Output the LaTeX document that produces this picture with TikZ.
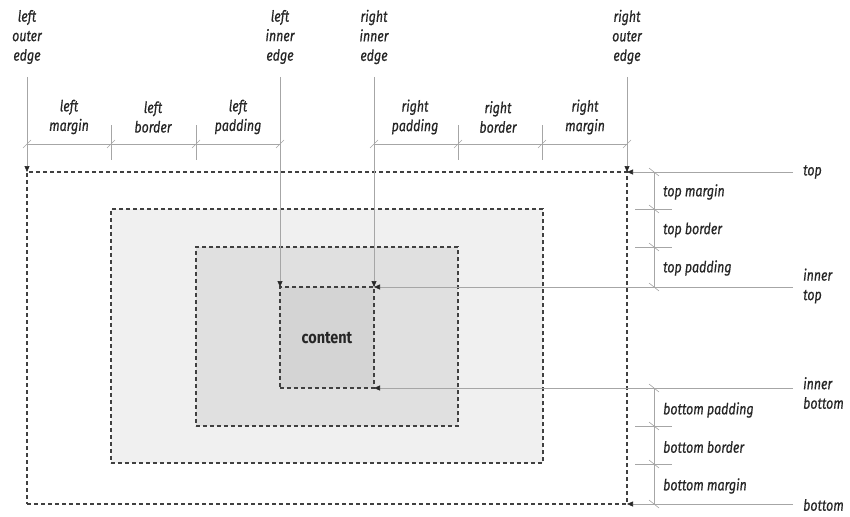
\documentclass[tikz,border=0pt]{standalone}
\usepackage{fontspec}
\newfontfamily\lblfont{Fira Sans}[FakeStretch=0.8,FakeBold=0.6]
\newfontfamily\cntfont{Fira Sans}[FakeStretch=0.85]
\usetikzlibrary{arrows.meta}
\begin{document}
\begin{tikzpicture}[x=1pt,y=-1pt,
  gl/.style={draw=black!35, line width=0.6pt},
  arr/.style={gl, -{Triangle[length=6pt,width=5pt,color=black!85]}},
  box/.style={draw=black!75, dash pattern=on 4pt off 3pt, line width=1.1pt, inner sep=0pt, outer sep=0pt},
  lbl/.style={font=\lblfont\itshape\fontsize{15.5}{19.5}\selectfont, text=black!85, inner sep=0pt},
  toplbl/.style={lbl, align=center},
  rlbl/.style={lbl, anchor=west, align=left},
]
\useasboundingbox (0,0) rectangle (850,516);

% boxes
\node[box, fill=white, minimum width=600pt, minimum height=332pt] (outer) at (327,338) {};
\node[box, fill=black!6, minimum width=432pt, minimum height=254pt] (border) at (327,336) {};
\node[box, fill=black!12, minimum width=262pt, minimum height=179pt] (padding) at (327,336.5) {};
\node[box, fill=black!17, minimum width=94pt, minimum height=101pt,
      font=\cntfont\bfseries\fontsize{17}{20}\selectfont, text=black!85] (content) at (327,337.5) {content};

% top labels
\node[toplbl] (loe) at (27,37) {left\\outer\\edge};
\node[toplbl] (lie) at (280,37) {left\\inner\\edge};
\node[toplbl] (rie) at (374,37) {right\\inner\\edge};
\node[toplbl] (roe) at (627,37) {right\\outer\\edge};

\coordinate (loetop) at (27,77);
\coordinate (lietop) at (280,77);
\coordinate (rietop) at (374,77);
\coordinate (roetop) at (627,77);
\draw[arr] (loetop) -- (outer.north west);
\draw[arr] (lietop) -- (content.north west);
\draw[arr] (rietop) -- (content.north east);
\draw[arr] (roetop) -- (outer.north east);

% horizontal dimension line
\draw[gl] (27,144) -- (280,144);
\draw[gl] (374,144) -- (627,144);
\foreach \x in {111,196,458,542} \draw[gl] (\x,125) -- (\x,160);
\foreach \x in {27,111,196,280,374,458,542,627} \draw[gl] (\x-4,148) -- (\x+4,140);

\node[toplbl] (lm) at (69,117) {left\\margin};
\node[toplbl] (lb) at (153,117) {left\\border};
\node[toplbl] (lp) at (238,117) {left\\padding};
\node[toplbl] (rp) at (415,117) {right\\padding};
\node[toplbl] (rb) at (498,117) {right\\border};
\node[toplbl] (rm) at (585,117) {right\\margin};

% right side lines
\coordinate (rtop) at (793,172);
\coordinate (rinnertop) at (793,287);
\coordinate (rinnerbot) at (793,388);
\coordinate (rbot) at (793,504);
\draw[arr] (rtop) -- (outer.north east);
\draw[arr] (rinnertop) -- (content.north east);
\draw[arr] (rinnerbot) -- (content.south east);
\draw[arr] (rbot) -- (outer.south east);

\node[rlbl] (ttop) at (803,172) {top};
\node[rlbl] (tinnertop) at (803,286) {inner\\top};
\node[rlbl] (tinnerbot) at (803,393) {inner\\bottom};
\node[rlbl] (tbot) at (803,505) {bottom};

% vertical dimension line
\draw[gl] (654,172) -- (654,287);
\draw[gl] (654,388) -- (654,504);
\foreach \y in {209,247,426,464} \draw[gl] (635,\y) -- (672,\y);
\foreach \y in {172,209,247,287,388,426,464,504} \draw[gl] (649,\y-4) -- (659,\y+4);

\node[rlbl] (tm) at (663,192) {top margin};
\node[rlbl] (tb) at (663,230) {top border};
\node[rlbl] (tp) at (663,268) {top padding};
\node[rlbl] (bp) at (663,410) {bottom padding};
\node[rlbl] (bb) at (663,447) {bottom border};
\node[rlbl] (bm) at (663,486) {bottom margin};
\end{tikzpicture}
\end{document}
